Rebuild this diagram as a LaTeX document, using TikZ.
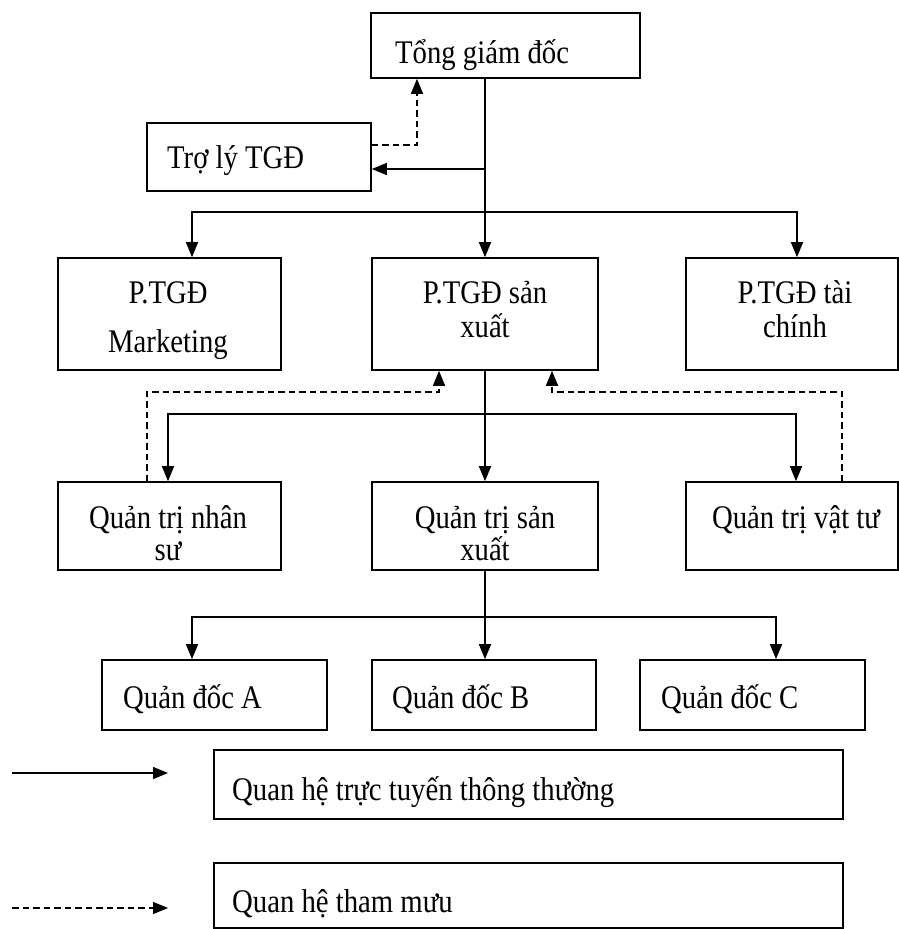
\documentclass[tikz,border=0pt]{standalone}
\usepackage{fontspec}
\setmainfont{Liberation Serif}[FakeStretch=0.87]
\usetikzlibrary{arrows.meta}
\begin{document}
\begin{tikzpicture}[x=1pt,y=-1pt]
\tikzset{
 box/.style={draw=black, line width=1.6pt, rectangle, inner sep=0pt},
 txt/.style={inner sep=0pt, font=\fontsize{33}{34}\selectfont},
 arr/.style={line width=1.4pt, -{Triangle[length=15pt,width=12pt]}},
 darr/.style={line width=1.4pt, dash pattern=on 6.5pt off 4pt, -{Triangle[length=15pt,width=12pt]}},
}
\fill[white] (0,0) rectangle (899,929);
\useasboundingbox (0,0) rectangle (899,929);

% boxes
\node[box, minimum width=269pt, minimum height=65pt] (tgd) at (505.5,45.5) {};
\node[box, minimum width=224pt, minimum height=68pt] (tly) at (259,157) {};
\node[box, minimum width=223pt, minimum height=112pt] (mkt) at (169.5,314) {};
\node[box, minimum width=226pt, minimum height=112pt] (sx) at (485,314) {};
\node[box, minimum width=212pt, minimum height=112pt] (tc) at (792,314) {};
\node[box, minimum width=223pt, minimum height=88pt] (ns) at (169.5,526) {};
\node[box, minimum width=226pt, minimum height=88pt] (qsx) at (485,526) {};
\node[box, minimum width=212pt, minimum height=88pt] (vt) at (792,526) {};
\node[box, minimum width=225pt, minimum height=70pt] (qa) at (214.5,695) {};
\node[box, minimum width=224pt, minimum height=70pt] (qb) at (484,695) {};
\node[box, minimum width=225pt, minimum height=70pt] (qc) at (752.5,695) {};
\node[box, minimum width=629pt, minimum height=69pt] (lg1) at (528.5,784.5) {};
\node[box, minimum width=629pt, minimum height=65pt] (lg2) at (528.5,895.5) {};

% texts
\node[txt, anchor=base west] (tgdT) at (395,63) {Tổng giám đốc};
\node[txt, anchor=base west] (tlyT) at (167,168) {Trợ lý TGĐ};
\node[txt, anchor=base] (mktT1) at (168,303) {P.TGĐ};
\node[txt, anchor=base] (mktT2) at (168,352) {Marketing};
\node[txt, anchor=base] (sxT1) at (485,303) {P.TGĐ sản};
\node[txt, anchor=base] (sxT2) at (485,337) {xuất};
\node[txt, anchor=base] (tcT1) at (795,303) {P.TGĐ tài};
\node[txt, anchor=base] (tcT2) at (795,337) {chính};
\node[txt, anchor=base] (nsT1) at (168,528) {Quản trị nhân};
\node[txt, anchor=base] (nsT2) at (168,560) {sư};
\node[txt, anchor=base] (qsxT1) at (485,528) {Quản trị sản};
\node[txt, anchor=base] (qsxT2) at (485,560) {xuất};
\node[txt, anchor=base] (vtT) at (796,528) {Quản trị vật tư};
\node[txt, anchor=base west] (qaT) at (123,708) {Quản đốc A};
\node[txt, anchor=base west] (qbT) at (392,708) {Quản đốc B};
\node[txt, anchor=base west] (qcT) at (661,708) {Quản đốc C};
\node[txt, anchor=base west] (lg1T) at (232,800) {Quan hệ trực tuyến thông thường};
\node[txt, anchor=base west] (lg2T) at (232,912) {Quan hệ tham mưu};

% top level
\draw[arr] (tgd.south -| sx.north) -- (sx.north);
\coordinate (t1) at (485,169);
\draw[arr] (t1) -- (t1 -| tly.east);
\coordinate (d1) at (417,145);
\draw[darr] (d1 -| tly.east) -- (d1) -- (d1 |- tgd.south);
\coordinate (hL) at (192,212);
\coordinate (hR) at (797,212);
\draw[arr] (hR) -- (hL) -- (hL |- mkt.north);
\draw[arr] (hL) -- (hR) -- (hR |- tc.north);

% second level
\draw[arr] (sx.south) -- (qsx.north);
\coordinate (gL) at (168,414);
\coordinate (gR) at (796,414);
\draw[arr] (gR) -- (gL) -- (gL |- ns.north);
\draw[arr] (gL) -- (gR) -- (gR |- vt.north);
\coordinate (eL) at (147,392);
\coordinate (eL2) at (439,392);
\draw[darr] (eL |- ns.north) -- (eL) -- (eL2) -- (eL2 |- sx.south);
\coordinate (eR) at (842,392);
\coordinate (eR2) at (552,392);
\draw[darr] (eR |- vt.north) -- (eR) -- (eR2) -- (eR2 |- sx.south);

% third level
\draw[arr] (qsx.south) -- (qsx.south |- qb.north);
\coordinate (kL) at (192,617);
\coordinate (kR) at (776,617);
\draw[arr] (kR) -- (kL) -- (kL |- qa.north);
\draw[arr] (kL) -- (kR) -- (kR |- qc.north);

% legend
\coordinate (l1a) at (12,773);
\coordinate (l1b) at (168,773);
\draw[arr] (l1a) -- (l1b);
\coordinate (l2a) at (12,908);
\coordinate (l2b) at (168,908);
\draw[darr] (l2a) -- (l2b);
\end{tikzpicture}
\end{document}
